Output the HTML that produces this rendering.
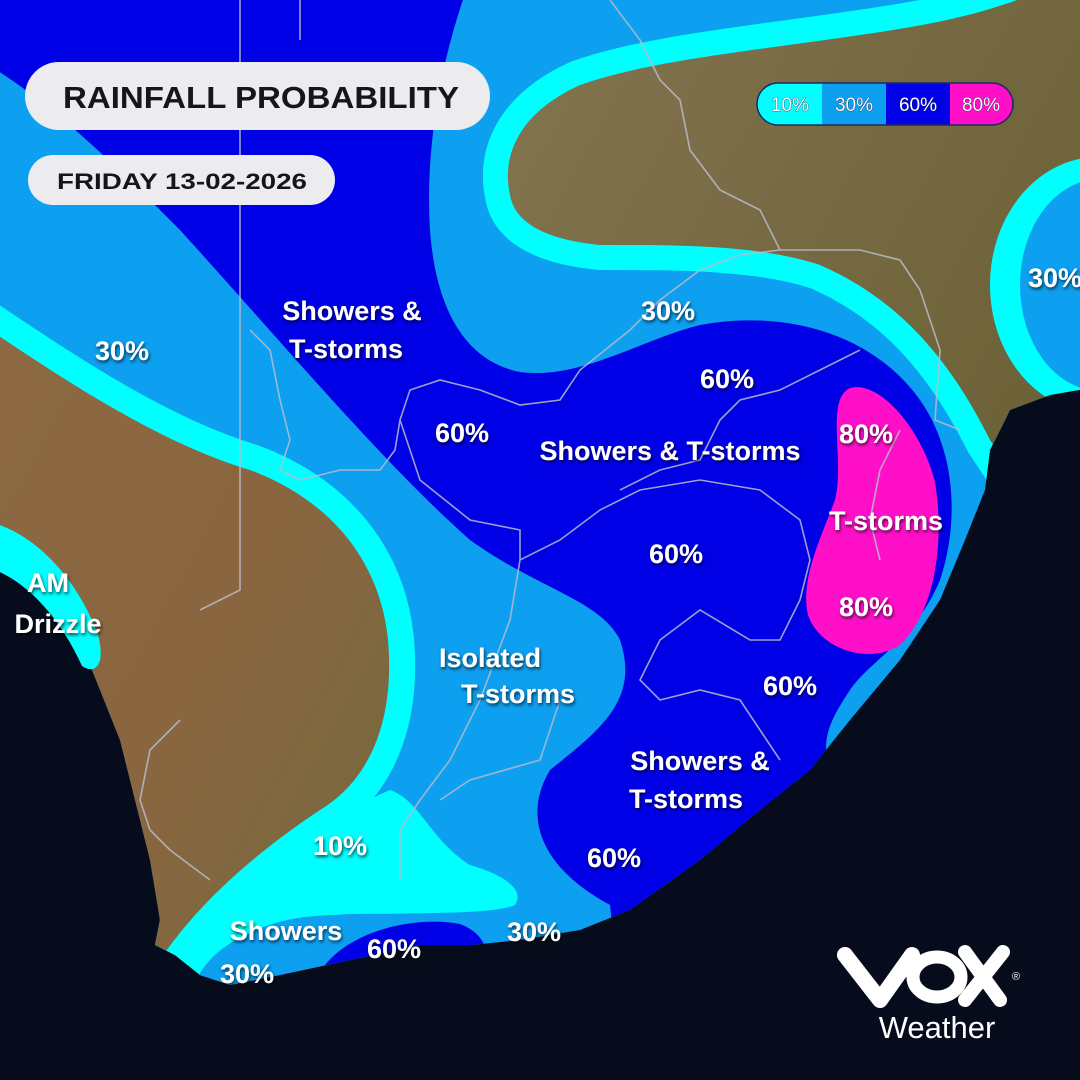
<!DOCTYPE html>
<html><head><meta charset="utf-8"><style>
html,body{margin:0;padding:0;background:#060c1c;}
svg{display:block;}
.lb{font-family:"Liberation Sans",sans-serif;font-weight:bold;fill:#fff;font-size:27px;text-anchor:middle;filter:url(#sh);}
</style></head><body>
<svg width="1080" height="1080" viewBox="0 0 1080 1080">
<defs>
<filter id="sh" x="-20%" y="-30%" width="140%" height="160%"><feDropShadow dx="1" dy="2" stdDeviation="1.5" flood-color="#000" flood-opacity="0.7"/></filter>
<linearGradient id="landg" x1="0" y1="0" x2="1" y2="1"><stop offset="0" stop-color="#8c6a44"/><stop offset="0.5" stop-color="#8a6640"/><stop offset="1" stop-color="#6f6a3e"/></linearGradient>
<linearGradient id="topg" x1="0" y1="0" x2="1" y2="1"><stop offset="0" stop-color="#857552"/><stop offset="0.6" stop-color="#6d6238"/><stop offset="1" stop-color="#55632f"/></linearGradient>
<clipPath id="land"><path d="M-10,-10 L1090,-10 L1090,388 L1050,395 L1010,410 L990,450 L985,490 L965,540 L940,600 L900,660 L850,720 L810,770 L760,810 L700,860 L630,910 L580,930 L520,940 L470,945 L420,945 L350,960 L280,975 L230,985 L200,975 L175,955 L155,945 L160,920 L150,860 L135,800 L120,740 L100,690 L80,640 L40,580 L-10,545 Z"/></clipPath>
</defs>
<rect width="1080" height="1080" fill="#060c1c"/>
<g clip-path="url(#land)">
<rect width="1080" height="1080" fill="#0d9ff0"/>
<path fill="#0000e6" d="M-20,-20 L470,-20 C440,60 425,150 430,230 C435,300 460,360 520,372 C580,380 640,340 700,325 C780,310 870,330 920,400 C955,450 960,520 940,580 C915,640 870,660 850,690 C830,720 820,740 830,770 L760,840 L700,1000 L620,1000 L610,905 C545,870 520,820 550,770 C600,730 640,700 620,640 C600,600 540,590 470,540 C380,460 280,340 180,230 C120,170 50,100 -20,60 Z"/>
<path id="topland" fill="none" stroke="#00ffff" stroke-width="50" d="M510,195 C500,150 525,110 580,85 C650,60 760,50 860,35 C930,25 980,15 1030,-5 L1130,-40 L1130,1130 L1010,470 L990,440 C950,360 900,300 820,265 C760,245 680,245 600,245 C550,240 515,225 510,195 Z"/>
<path fill="url(#topg)" d="M510,195 C500,150 525,110 580,85 C650,60 760,50 860,35 C930,25 980,15 1030,-5 L1130,-40 L1130,1130 L1010,470 L990,440 C950,360 900,300 820,265 C760,245 680,245 600,245 C550,240 515,225 510,195 Z"/>
<ellipse cx="1098" cy="285" rx="108" ry="128" fill="#00ffff"/>
<ellipse cx="1100" cy="285" rx="80" ry="106" fill="#0d9ff0"/>
<path fill="#00ffff" d="M140,980 C200,880 300,830 390,790 C420,800 430,840 470,865 C505,875 525,890 515,905 C490,915 420,912 340,915 C270,915 225,935 200,990 Z"/>
<path fill="none" stroke="#00ffff" stroke-width="52" d="M-40,310 C50,370 150,440 250,470 C330,500 380,560 388,640 C395,720 370,780 320,810 C260,850 200,900 160,960 L100,1100 L-40,1100 Z"/>
<path fill="url(#landg)" d="M-40,310 C50,370 150,440 250,470 C330,500 380,560 388,640 C395,720 370,780 320,810 C260,850 200,900 160,960 L100,1100 L-40,1100 Z"/>
<path fill="#0d9ff0" d="M190,1000 C200,945 260,918 350,914 C420,912 480,920 515,945 L520,1000 Z"/>
<path fill="#0000e6" d="M325,965 C355,928 420,916 460,924 C482,932 492,950 485,975 Z"/>
<path fill="#ff10c8" d="M850,388 C880,380 922,430 935,482 C945,542 935,612 900,645 C870,665 820,650 808,615 C800,580 820,540 835,500 C845,460 825,400 850,388 Z"/>
<g fill="none" stroke="#b8bccc" stroke-width="1.6" opacity="0.85">
<path d="M240,0 L240,590 L200,610"/>
<path d="M300,0 L300,40"/>
<path d="M610,0 L640,40 L660,80 L680,100 L690,150 L720,190 L760,210 L780,250 L740,255 L700,270 L660,300 L630,330 L580,370 L560,400 L520,405 L480,390 L440,380 L410,390 L400,420 L395,450 L380,470 L340,470 L300,480 L280,470 L290,440 L280,400 L270,350 L250,330"/>
<path d="M780,250 L860,250 L900,260 L920,290 L940,350 L935,420 L960,430"/>
<path d="M400,420 L420,480 L470,520 L520,530 L520,560 L560,540 L600,510 L640,490 L700,480 L760,490 L800,520 L810,560 L800,600 L780,640 L750,640 L700,610 L660,640 L640,680 L660,700 L700,690 L740,700 L760,730 L780,760"/>
<path d="M520,560 L510,620 L480,700 L450,760 L420,800 L400,830 L400,880"/>
<path d="M560,700 L540,760 L470,780 L440,800"/>
<path d="M860,350 L820,370 L780,390 L740,400 L720,420 L700,460 L660,470 L620,490"/>
<path d="M900,430 L880,470 L870,520 L880,560"/>
<path d="M180,720 L150,750 L140,800 L150,830 L170,850 L210,880"/>
</g>
</g>
<path fill="#00ffff" d="M-10,522 C40,535 80,585 98,635 C106,665 95,675 82,666 C62,622 30,582 -10,568 Z"/>

<g>
<text class="lb" x="352" y="320">Showers &amp;</text>
<text class="lb" x="346" y="358">T-storms</text>
<text class="lb" x="122" y="360">30%</text>
<text class="lb" x="668" y="320">30%</text>
<text class="lb" x="727" y="388">60%</text>
<text class="lb" x="462" y="442">60%</text>
<text class="lb" x="670" y="460">Showers &amp; T-storms</text>
<text class="lb" x="866" y="443">80%</text>
<text class="lb" x="886" y="530">T-storms</text>
<text class="lb" x="676" y="563">60%</text>
<text class="lb" x="866" y="616">80%</text>
<text class="lb" x="48" y="592">AM</text>
<text class="lb" x="58" y="633">Drizzle</text>
<text class="lb" x="490" y="667">Isolated</text>
<text class="lb" x="518" y="703">T-storms</text>
<text class="lb" x="790" y="695">60%</text>
<text class="lb" x="700" y="770">Showers &amp;</text>
<text class="lb" x="686" y="808">T-storms</text>
<text class="lb" x="340" y="855">10%</text>
<text class="lb" x="614" y="867">60%</text>
<text class="lb" x="286" y="940">Showers</text>
<text class="lb" x="394" y="958">60%</text>
<text class="lb" x="247" y="983">30%</text>
<text class="lb" x="534" y="941">30%</text>
<text class="lb" x="1055" y="287">30%</text>
</g>

<g>
<rect x="25" y="62" width="465" height="68" rx="34" fill="#ececee"/>
<text x="63" y="108" font-family="Liberation Sans,sans-serif" font-weight="bold" font-size="31" fill="#15151a" textLength="396" lengthAdjust="spacingAndGlyphs">RAINFALL PROBABILITY</text>
</g>
<g>
<rect x="28" y="155" width="307" height="50" rx="25" fill="#ececee"/>
<text x="57" y="189" font-family="Liberation Sans,sans-serif" font-weight="bold" font-size="22" fill="#15151a" textLength="250" lengthAdjust="spacingAndGlyphs">FRIDAY 13-02-2026</text>
</g>

<g>
<clipPath id="lgc"><rect x="757" y="83" width="256" height="42" rx="21"/></clipPath>
<g clip-path="url(#lgc)">
<rect x="757" y="83" width="65" height="42" fill="#00ffff"/>
<rect x="822" y="83" width="64" height="42" fill="#0d9ff0"/>
<rect x="886" y="83" width="64" height="42" fill="#0000e6"/>
<rect x="950" y="83" width="63" height="42" fill="#ff10c8"/>
</g>
<rect x="757" y="83" width="256" height="42" rx="21" fill="none" stroke="#1a2a60" stroke-width="1.5"/>
<g font-family="Liberation Sans,sans-serif" font-size="19" fill="#fff" text-anchor="middle" stroke="#0a1840" stroke-width="0.6" paint-order="stroke">
<text x="790" y="111">10%</text><text x="854" y="111">30%</text><text x="918" y="111">60%</text><text x="981" y="111">80%</text>
</g>
</g>

<g fill="none" stroke="#fff" stroke-linecap="round" stroke-linejoin="round">
<path d="M845,955 L880,1000 L912,955" stroke-width="16"/>
<ellipse cx="937" cy="977" rx="24" ry="20" stroke-width="13"/>
<path d="M965,952 L1000,1000 M1003,952 L965,1000" stroke-width="14"/>
<text x="1012" y="980" font-family="Liberation Sans,sans-serif" font-size="11" fill="#fff" stroke="none">®</text>
<text x="937" y="1038" font-family="Liberation Sans,sans-serif" font-size="31" fill="#fff" stroke="none" text-anchor="middle">Weather</text>
</g>
</svg>
</body></html>
